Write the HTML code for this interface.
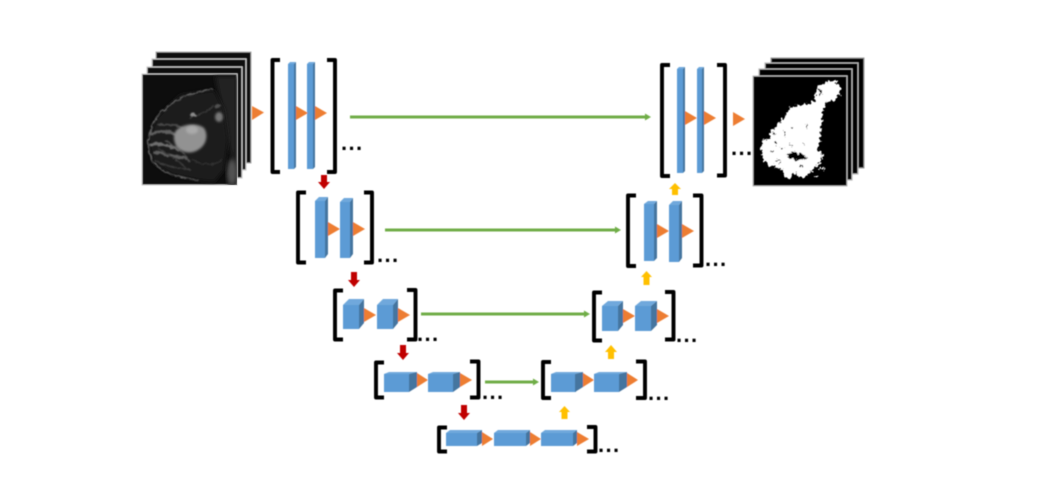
<!DOCTYPE html>
<html>
<head>
<meta charset="utf-8">
<style>
html,body{margin:0;padding:0;background:#fff;width:1064px;height:484px;overflow:hidden}
svg{display:block}
.f{fill:#5b9bd5}.t{fill:#6fa8dc}.s{fill:#44749f}
.o{fill:#ed7d31}
.r{fill:#c00000}.y{fill:#ffc000}
.b{fill:none;stroke:#000;stroke-width:3.9;stroke-linejoin:round}
.g{stroke:#70ad47;stroke-width:3;fill:none}
.ga{fill:#70ad47}
text{font-family:"Liberation Sans",sans-serif;font-size:22px;font-weight:bold;letter-spacing:1.4px;fill:#000}
</style>
</head>
<body>
<svg width="1064" height="484" viewBox="0 0 1064 484" xmlns="http://www.w3.org/2000/svg">
<defs>
<filter id="soft" x="-5%" y="-5%" width="110%" height="110%"><feGaussianBlur stdDeviation="0.5"/></filter>
<filter id="mri" x="-10%" y="-10%" width="120%" height="120%">
  <feTurbulence type="fractalNoise" baseFrequency="0.22" numOctaves="2" seed="4" result="n"/>
  <feDisplacementMap in="SourceGraphic" in2="n" scale="4" xChannelSelector="R" yChannelSelector="G"/>
  <feGaussianBlur stdDeviation="0.8"/>
</filter>
<filter id="tum" x="-20%" y="-20%" width="140%" height="140%"><feGaussianBlur stdDeviation="1.3"/></filter>
<filter id="mri2" x="-20%" y="-20%" width="140%" height="140%"><feGaussianBlur stdDeviation="2.5"/></filter>
<filter id="jag" x="-10%" y="-10%" width="120%" height="120%">
  <feTurbulence type="fractalNoise" baseFrequency="0.35" numOctaves="2" seed="9" result="n"/>
  <feDisplacementMap in="SourceGraphic" in2="n" scale="7" xChannelSelector="R" yChannelSelector="G"/>
  <feGaussianBlur stdDeviation="0.45"/>
</filter>
<clipPath id="mriclip"><rect x="142" y="74" width="95" height="111"/></clipPath>
</defs>
<rect width="1064" height="484" fill="#fff"/>
<g filter="url(#soft)">
<!-- left image stack -->
<rect x="156" y="52" width="95" height="111" fill="#111" stroke="#aaa" stroke-width="1"/>
<rect x="152" y="59" width="94" height="111" fill="#111" stroke="#ccc" stroke-width="1.2"/>
<rect x="147" y="67" width="95" height="111" fill="#111" stroke="#ccc" stroke-width="1.2"/>
<rect x="142" y="74" width="95" height="111" fill="#0e0e0e" stroke="#ccc" stroke-width="1"/>
</g>
<g clip-path="url(#mriclip)">
<path d="M215 76 L237 76 L237 185 L228 185 L232 160 L226 135 L222 110 Z" fill="#222" filter="url(#mri2)"/>
<ellipse cx="232" cy="172" rx="5" ry="13" fill="#555" filter="url(#mri2)"/>
<path d="M214 90 L180 95 L157 117 L148 140 L153 163 L173 175 L197 180 L214 182 L224 170 L228 140 L224 110 Z" fill="#1a1a1a" filter="url(#mri2)"/>
<g filter="url(#mri)" fill="none">
<path d="M213 89 C190 92 172 100 157 117 C148 130 146 145 151 158 C158 172 176 177 198 180" stroke="#6e6e6e" stroke-width="1.2"/>
<path d="M150 135 C165 128 175 133 185 140" stroke="#5e5e5e" stroke-width="3"/>
<path d="M150 145 C162 142 170 147 180 150" stroke="#6e6e6e" stroke-width="3.4"/>
<path d="M153 152 C165 153 175 158 188 158" stroke="#5e5e5e" stroke-width="3"/>
<path d="M158 125 C168 122 178 126 186 130" stroke="#484848" stroke-width="2"/>
<path d="M190 118 C200 114 206 112 214 106" stroke="#3c3c3c" stroke-width="1.2"/>
<path d="M192 160 C205 166 215 165 222 160" stroke="#333" stroke-width="1.4"/>
<path d="M155 160 C165 166 175 168 190 170" stroke="#404040" stroke-width="1.6"/>
<path d="M165 140 C175 146 182 150 190 162" stroke="#505050" stroke-width="1.6"/>
<path d="M158 148 C170 156 178 160 186 168" stroke="#404040" stroke-width="1.4"/>
<ellipse cx="193" cy="115" rx="3" ry="2" fill="#8c8c8c"/>
<ellipse cx="218" cy="106" rx="3" ry="2" fill="#505050"/>
</g>
<path d="M175 132 C180 124 197 122 204 128 C209 135 206 146 198 150 C190 155 180 152 176 146 C174 141 173 137 175 132 Z" fill="#929292" filter="url(#tum)"/>
<ellipse cx="192" cy="130" rx="6" ry="4" fill="#aaa" filter="url(#tum)"/>
<ellipse cx="219" cy="117" rx="4" ry="5" fill="#777" filter="url(#tum)"/>
</g>

<!-- right mask stack -->
<g filter="url(#soft)">
<rect x="771" y="58" width="93" height="110" fill="#000" stroke="#999" stroke-width="1"/>
<rect x="765" y="63" width="93" height="111" fill="#000" stroke="#bbb" stroke-width="1.2"/>
<rect x="759" y="69" width="93" height="111" fill="#000" stroke="#bbb" stroke-width="1.2"/>
<rect x="753" y="76" width="94" height="110" fill="#000" stroke="#bbb" stroke-width="1"/>
</g>
<g filter="url(#jag)">
<path fill="#fff" d="M820 84 L826 82 L836 81 L840 86 L840 94 L835 100 L826 102 L824 108 L823 112 L821 125 L820 140 L818 150 L823 155 L822 160 L815 168 L810 172 L804 178 L798 177 L796 172 L790 179 L784 178 L784 170 L775 167 L768 166 L763 158 L761 148 L762 140 L770 138 L770 131 L776 127 L781 120 L787 114 L790 108 L796 106 L800 105 L806 103 L811 103 L815 100 L816 92 Z"/>
<g fill="#000">
<path d="M785 155 C795 150 800 152 807 158 C802 162 792 160 785 155 Z"/>
<rect x="791" y="127" width="2" height="2"/><rect x="790" y="144" width="2" height="2"/>
<rect x="775" y="142" width="2" height="3"/><rect x="770" y="150" width="4" height="2"/>
<rect x="781" y="148" width="3" height="2"/><rect x="772" y="133" width="4" height="1.5"/>
<rect x="806" y="125" width="1.5" height="2"/><rect x="803" y="142" width="1.5" height="3"/>
<rect x="819" y="90" width="3" height="5"/>
<rect x="783" y="132" width="2" height="4"/>
<rect x="775" y="160" width="5" height="2"/><rect x="800" y="165" width="4" height="2"/>
</g>
<rect x="818" y="168" width="7" height="1.5" fill="#fff"/>
<rect x="814" y="176" width="4" height="1.5" fill="#fff"/>
</g>

<g filter="url(#soft)">
<!-- brackets -->
<path class="b" d="M280 60 H272.500 V172 H280"/><path class="b" d="M327 60 H335 V172 H327"/>
<path class="b" d="M306 192.500 H298 V262.500 H306"/><path class="b" d="M364 192.500 H372 V262.500 H364"/>
<path class="b" d="M343 290.500 H335 V339.500 H343"/><path class="b" d="M407 290 H415.500 V339.500 H407"/>
<path class="b" d="M384 362.500 H376 V397.500 H384"/><path class="b" d="M470 361.500 H478.500 V397.500 H470"/>
<path class="b" d="M447 427.500 H439 V451.500 H447"/><path class="b" d="M587 427 H595.500 V451.500 H587"/>
<path class="b" d="M670 65 H662 V176 H670"/><path class="b" d="M717 65 H725 V175.500 H717"/>
<path class="b" d="M636 195.500 H628 V266 H636"/><path class="b" d="M693 195.500 H701.500 V265.500 H693"/>
<path class="b" d="M602 292.500 H594 V340.500 H602"/><path class="b" d="M665 292 H673.500 V339.500 H665"/>
<path class="b" d="M551 362 H543 V398 H551"/><path class="b" d="M636 361.500 H645 V398 H636"/>

<!-- block 1 left bars -->
<rect class="f" x="288" y="64" width="6" height="105"/><polygon class="t" points="288,64 290,62 296,62 294,64"/><polygon class="s" points="294,64 296,62 296,167 294,169"/>
<rect class="f" x="307" y="64" width="6" height="105"/><polygon class="t" points="307,64 309,62 315,62 313,64"/><polygon class="s" points="313,64 315,62 315,167 313,169"/>
<!-- block 1 right bars -->
<rect class="f" x="677" y="69" width="6" height="104"/><polygon class="t" points="677,69 679,67 685,67 683,69"/><polygon class="s" points="683,69 685,67 685,171 683,173"/>
<rect class="f" x="697" y="69" width="5" height="104"/><polygon class="t" points="697,69 699,67 704,67 702,69"/><polygon class="s" points="702,69 704,67 704,171 702,173"/>

<!-- block 2 left -->
<rect class="f" x="315" y="201" width="10" height="57"/><polygon class="t" points="315,201 319,197 328,197 325,201"/><polygon class="s" points="325,201 328,197 328,254 325,258"/>
<rect class="f" x="340" y="202" width="10" height="56"/><polygon class="t" points="340,202 344,198 353,198 350,202"/><polygon class="s" points="350,202 353,198 353,254 350,258"/>
<!-- block 2 right -->
<rect class="f" x="644" y="204" width="10" height="57"/><polygon class="t" points="644,204 648,201 657,201 654,204"/><polygon class="s" points="654,204 657,201 657,258 654,261"/>
<rect class="f" x="669" y="205" width="10" height="57"/><polygon class="t" points="669,205 673,201 682,201 679,205"/><polygon class="s" points="679,205 682,201 682,258 679,262"/>

<!-- block 3 left -->
<rect class="f" x="343" y="305" width="16" height="24"/><polygon class="t" points="343,305 349,299 364,299 359,305"/><polygon class="s" points="359,305 364,299 364,323 359,329"/>
<rect class="f" x="377" y="305" width="16" height="24"/><polygon class="t" points="377,305 383,299 398,299 393,305"/><polygon class="s" points="393,305 398,299 398,323 393,329"/>
<!-- block 3 right -->
<rect class="f" x="602" y="306" width="16" height="25"/><polygon class="t" points="602,306 608,301 623,301 618,306"/><polygon class="s" points="618,306 623,301 623,325 618,331"/>
<rect class="f" x="635" y="306" width="16" height="25"/><polygon class="t" points="635,306 641,301 657,301 651,306"/><polygon class="s" points="651,306 657,301 657,325 651,331"/>

<!-- block 4 left -->
<rect class="f" x="384" y="374" width="25" height="18"/><polygon class="t" points="384,374 389,372 417,372 409,374"/><polygon class="s" points="409,374 417,372 417,387 409,392"/>
<rect class="f" x="428" y="374" width="25" height="18"/><polygon class="t" points="428,374 433,372 460,372 453,374"/><polygon class="s" points="453,374 460,372 460,387 453,392"/>
<!-- block 4 right -->
<rect class="f" x="551" y="374" width="25" height="18"/><polygon class="t" points="551,374 556,372 583,372 575,374"/><polygon class="s" points="575,374 583,372 583,387 575,392"/>
<rect class="f" x="594" y="374" width="25" height="18"/><polygon class="t" points="594,374 599,372 627,372 619,374"/><polygon class="s" points="619,374 627,372 627,387 619,392"/>

<!-- block 5 -->
<rect class="f" x="446" y="433" width="31" height="13"/><polygon class="t" points="446,433 450,430 482,430 477,433"/><polygon class="s" points="477,433 482,430 482,443 477,446"/>
<rect class="f" x="494" y="433" width="32" height="13"/><polygon class="t" points="494,433 498,430 530,430 526,433"/><polygon class="s" points="526,433 530,430 530,443 526,446"/>
<rect class="f" x="541" y="433" width="32" height="13"/><polygon class="t" points="541,433 545,430 577,430 573,433"/><polygon class="s" points="573,433 577,430 577,443 573,446"/>

<!-- orange triangles -->
<polygon class="o" points="252,106 264,112.500 252,120"/>
<polygon class="o" points="296,106 308,113 296,120"/>
<polygon class="o" points="315,106 327,113 315,120"/>
<polygon class="o" points="685,111 697,118 685,125"/>
<polygon class="o" points="704,111 716,118 704,125"/>
<polygon class="o" points="733,112 745,119 733,126"/>
<polygon class="o" points="328,222 340,229 328,236"/>
<polygon class="o" points="353,222 365,229 353,236"/>
<polygon class="o" points="657,224 669,231 657,238"/>
<polygon class="o" points="682,224 694,231 682,238"/>
<polygon class="o" points="364,308 376,315 364,322"/>
<polygon class="o" points="398,308 410,315 398,322"/>
<polygon class="o" points="623,309 635,316 623,323"/>
<polygon class="o" points="657,309 669,316 657,323"/>
<polygon class="o" points="417,373 428,380 417,387"/>
<polygon class="o" points="460,373 472,380 460,387"/>
<polygon class="o" points="583,373 594,380 583,387"/>
<polygon class="o" points="627,373 638,380 627,387"/>
<polygon class="o" points="482,432 493,439 482,446"/>
<polygon class="o" points="530,432 541,439 530,446"/>
<polygon class="o" points="577,432 589,439 577,446"/>

<!-- green arrows -->
<line class="g" x1="350" y1="117" x2="645" y2="117"/><polygon class="ga" points="645,113.500 651,117 645,120.500"/>
<line class="g" x1="385" y1="230" x2="615" y2="230"/><polygon class="ga" points="615,226.500 621,230 615,233.500"/>
<line class="g" x1="421" y1="314" x2="584" y2="314"/><polygon class="ga" points="584,310.500 590,314 584,317.500"/>
<line class="g" x1="485" y1="382" x2="533" y2="382"/><polygon class="ga" points="533,378.500 539,382 533,385.500"/>

<!-- red arrows -->
<polygon class="r" points="321,175 327,175 327,182 330,182 324,189 318,182 321,182"/>
<polygon class="r" points="351,272 357,272 357,280 360,280 354,287 348,280 351,280"/>
<polygon class="r" points="400,345 406,345 406,353 409,353 403,360 397,353 400,353"/>
<polygon class="r" points="461,405 467,405 467,413 470,413 464,420 458,413 461,413"/>

<!-- yellow arrows -->
<polygon class="y" points="675,183 681,189 678,189 678,195 672,195 672,189 669,189"/>
<polygon class="y" points="646.500,271 652,277 649.500,277 649.500,285 643.500,285 643.500,277 641,277"/>
<polygon class="y" points="611,345 617,352 614,352 614,359 608,359 608,352 605,352"/>
<polygon class="y" points="564.500,406 570,412 567.500,412 567.500,419 561.500,419 561.500,412 559,412"/>

<!-- dots -->
<text x="341" y="150">...</text>
<text x="731" y="155">...</text>
<text x="377" y="262">...</text>
<text x="705" y="266">...</text>
<text x="417" y="341">...</text>
<text x="676" y="342">...</text>
<text x="482" y="399">...</text>
<text x="648" y="400">...</text>
<text x="598" y="452">...</text>
</g>
</svg>
</body>
</html>
